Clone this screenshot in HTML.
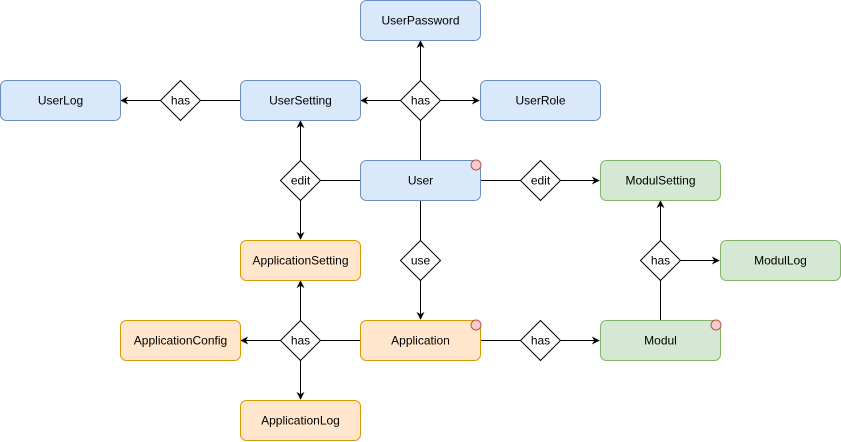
<!DOCTYPE html>
<html><head><meta charset="utf-8"><style>html,body{margin:0;padding:0;background:#fff}svg{display:block}text{font-family:"Liberation Sans",Arial,sans-serif;font-size:12px;fill:#000;text-anchor:middle;dominant-baseline:central}</style></head>
<body>
<svg width="841" height="442" viewBox="0 0 841 442" xmlns="http://www.w3.org/2000/svg">
<defs><marker id="a" viewBox="0 0 10 10" refX="9" refY="5" markerWidth="8" markerHeight="8" orient="auto" markerUnits="userSpaceOnUse"><path d="M0,0 L10,5 L0,10 L3,5 Z" fill="#000"/></marker></defs>
<g stroke="#000" stroke-width="1" fill="none">
<line x1="420.5" y1="160" x2="420.5" y2="120"/>
<line x1="420.5" y1="80" x2="420.5" y2="41" marker-end="url(#a)"/>
<line x1="400" y1="100.5" x2="361" y2="100.5" marker-end="url(#a)"/>
<line x1="440" y1="100.5" x2="479" y2="100.5" marker-end="url(#a)"/>
<line x1="240" y1="100.5" x2="200" y2="100.5"/>
<line x1="160" y1="100.5" x2="121" y2="100.5" marker-end="url(#a)"/>
<line x1="360" y1="180.5" x2="320" y2="180.5"/>
<line x1="300.5" y1="160" x2="300.5" y2="121" marker-end="url(#a)"/>
<line x1="300.5" y1="200" x2="300.5" y2="239" marker-end="url(#a)"/>
<line x1="480" y1="180.5" x2="520" y2="180.5"/>
<line x1="560" y1="180.5" x2="599" y2="180.5" marker-end="url(#a)"/>
<line x1="420.5" y1="200" x2="420.5" y2="240"/>
<line x1="420.5" y1="280" x2="420.5" y2="319" marker-end="url(#a)"/>
<line x1="360" y1="340.5" x2="320" y2="340.5"/>
<line x1="300.5" y1="320" x2="300.5" y2="281" marker-end="url(#a)"/>
<line x1="280" y1="340.5" x2="241" y2="340.5" marker-end="url(#a)"/>
<line x1="300.5" y1="360" x2="300.5" y2="399" marker-end="url(#a)"/>
<line x1="480" y1="340.5" x2="520" y2="340.5"/>
<line x1="560" y1="340.5" x2="599" y2="340.5" marker-end="url(#a)"/>
<line x1="660.5" y1="320" x2="660.5" y2="280"/>
<line x1="660.5" y1="240" x2="660.5" y2="201" marker-end="url(#a)"/>
<line x1="680" y1="260.5" x2="719" y2="260.5" marker-end="url(#a)"/>
</g>
<g stroke="#6c8ebf" fill="#dae8fc">
<rect x="360.5" y="0.5" width="120" height="40" rx="6"/>
<rect x="0.5" y="80.5" width="120" height="40" rx="6"/>
<rect x="240.5" y="80.5" width="120" height="40" rx="6"/>
<rect x="480.5" y="80.5" width="120" height="40" rx="6"/>
<rect x="360.5" y="160.5" width="120" height="40" rx="6"/>
</g>
<g stroke="#d79b00" fill="#ffe6cc">
<rect x="240.5" y="240.5" width="120" height="40" rx="6"/>
<rect x="120.5" y="320.5" width="120" height="40" rx="6"/>
<rect x="360.5" y="320.5" width="120" height="40" rx="6"/>
<rect x="240.5" y="400.5" width="120" height="40" rx="6"/>
</g>
<g stroke="#82b366" fill="#d5e8d4">
<rect x="600.5" y="160.5" width="120" height="40" rx="6"/>
<rect x="720.5" y="240.5" width="120" height="40" rx="6"/>
<rect x="600.5" y="320.5" width="120" height="40" rx="6"/>
</g>
<g stroke="#b85450" fill="#f8cecc">
<circle cx="476" cy="165" r="5"/>
<circle cx="476" cy="325" r="5"/>
<circle cx="716" cy="325" r="5"/>
</g>
<g stroke="#000" fill="#fff">
<path d="M420.5,80.5 L440.5,100.5 L420.5,120.5 L400.5,100.5 Z"/>
<path d="M180.5,80.5 L200.5,100.5 L180.5,120.5 L160.5,100.5 Z"/>
<path d="M300.5,160.5 L320.5,180.5 L300.5,200.5 L280.5,180.5 Z"/>
<path d="M540.5,160.5 L560.5,180.5 L540.5,200.5 L520.5,180.5 Z"/>
<path d="M420.5,240.5 L440.5,260.5 L420.5,280.5 L400.5,260.5 Z"/>
<path d="M660.5,240.5 L680.5,260.5 L660.5,280.5 L640.5,260.5 Z"/>
<path d="M300.5,320.5 L320.5,340.5 L300.5,360.5 L280.5,340.5 Z"/>
<path d="M540.5,320.5 L560.5,340.5 L540.5,360.5 L520.5,340.5 Z"/>
</g>
<g>
<text x="420.5" y="20.5">UserPassword</text>
<text x="60.5" y="100.5">UserLog</text>
<text x="300.5" y="100.5">UserSetting</text>
<text x="540.5" y="100.5">UserRole</text>
<text x="420.5" y="180.5">User</text>
<text x="660.5" y="180.5">ModulSetting</text>
<text x="300.5" y="260.5">ApplicationSetting</text>
<text x="780.5" y="260.5">ModulLog</text>
<text x="180.5" y="340.5">ApplicationConfig</text>
<text x="420.5" y="340.5">Application</text>
<text x="660.5" y="340.5">Modul</text>
<text x="300.5" y="420.5">ApplicationLog</text>
<text x="420.5" y="100.5">has</text>
<text x="180.5" y="100.5">has</text>
<text x="300.5" y="180.5">edit</text>
<text x="540.5" y="180.5">edit</text>
<text x="420.5" y="260.5">use</text>
<text x="660.5" y="260.5">has</text>
<text x="300.5" y="340.5">has</text>
<text x="540.5" y="340.5">has</text>
</g>
</svg>
</body></html>
